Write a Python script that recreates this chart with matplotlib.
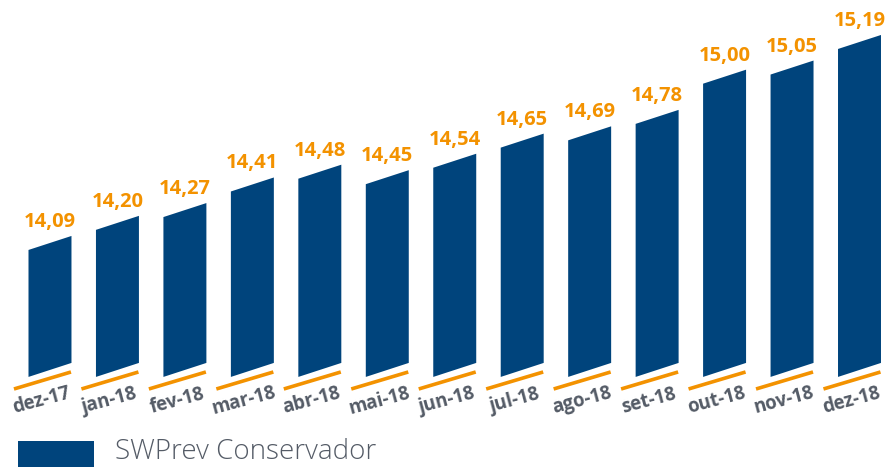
import matplotlib
matplotlib.use("Agg")
import matplotlib.pyplot as plt
from matplotlib.patches import Polygon, Rectangle

categories = ["dez-17", "jan-18", "fev-18", "mar-18", "abr-18", "mai-18", "jun-18",
              "jul-18", "ago-18", "set-18", "out-18", "nov-18", "dez-18"]
values = [14.09, 14.20, 14.27, 14.41, 14.48, 14.45, 14.54,
          14.65, 14.69, 14.78, 15.00, 15.05, 15.19]
value_labels = ["14,09", "14,20", "14,27", "14,41", "14,48", "14,45", "14,54",
                "14,65", "14,69", "14,78", "15,00", "15,05", "15,19"]
series_name = "SWPrev Conservador"

BLUE = "#00447C"
ORANGE = "#F39200"
GRAY = "#545B66"

W, H, DPI = 885, 467, 100
fig = plt.figure(figsize=(W / DPI, H / DPI), dpi=DPI)
ax = fig.add_axes([0, 0, 1, 1])
ax.set_xlim(-0.741, 12.378)
base = 13.395
ax.set_ylim(12.902, 15.458)
ax.axis("off")

bw = 0.637      # bar width (x units)
skew = 0.0766   # rise of right edge (y units)

for i, (cat, v, lab) in enumerate(zip(categories, values, value_labels)):
    xl, xr = i - bw / 2, i + bw / 2
    poly = Polygon([(xl, base), (xr, base + skew), (xr, v + skew), (xl, v)],
                   closed=True, facecolor=BLUE, edgecolor="none")
    ax.add_patch(poly)
    # orange underline
    ax.plot([i - 0.534, i + 0.311], [base - 0.066, base + 0.027],
            color=ORANGE, lw=2.6, solid_capstyle="butt")
    # value label
    ax.text(i, v + skew / 2 + 0.115, lab, ha="center", va="center",
            fontsize=14.5, fontweight="bold", color=ORANGE, family="Open Sans")
    # category label
    ax.text(i - 0.12, base - 0.13, cat, ha="center", va="center",
            rotation=15, rotation_mode="anchor",
            fontsize=13.5, fontweight="bold", color=GRAY, family="Open Sans")

# legend
fig.patches.append(Rectangle((18 / W, 0), 76 / W, 26 / H, transform=fig.transFigure,
                             facecolor=BLUE, edgecolor="none"))
fig.text(115 / W, 8 / H, series_name, ha="left", va="baseline",
         fontsize=20, fontweight="light", color=GRAY, family="Open Sans")

fig.savefig("out.png", dpi=DPI)
